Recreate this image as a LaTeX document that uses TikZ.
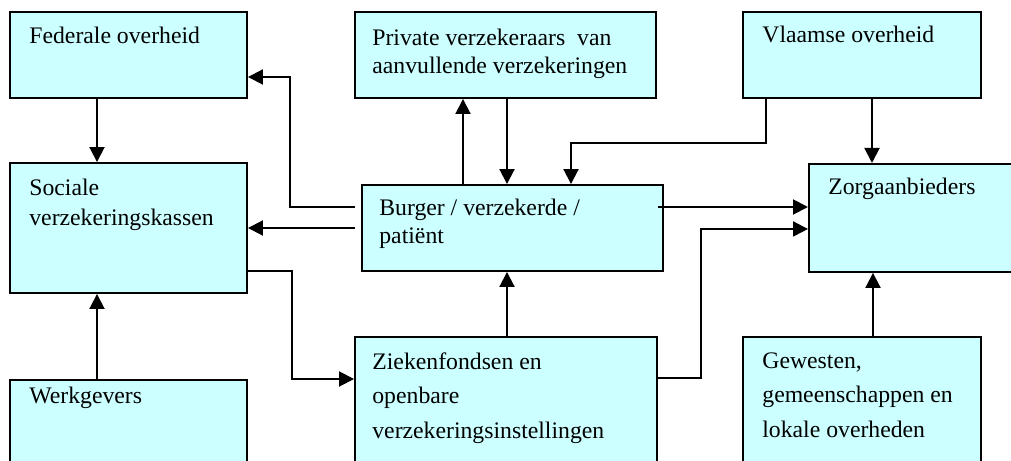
\documentclass[tikz,border=0pt]{standalone}
\usepackage{fontspec}
\setmainfont{Liberation Serif}
\usetikzlibrary{positioning,arrows.meta}
\definecolor{boxcyan}{HTML}{CCFFFF}
\tikzset{
  linkarrow/.style={-{Triangle[length=3mm, width=3mm]}, line width=1.1pt},
  orgbox/.style={draw, line width=1.1pt, fill=boxcyan, inner sep=0pt},
  orgtext/.style={anchor=north west, inner sep=0pt, align=left, font=\fontsize{13.5pt}{#1}\selectfont},
  orgtext/.default=16pt
}

\begin{document}
\begin{tikzpicture}
  \useasboundingbox (0,0) rectangle (20.22,9.2);
  \clip (0,0) rectangle (20.22,9.2);
  % boxes
  \node[orgbox, minimum width=4.74cm, minimum height=1.72cm] (fed) at (2.57,8.1) {};
  \node[orgbox, minimum width=4.74cm, minimum height=2.6cm] (soc) at (2.57,4.64) {};
  \node[orgbox, minimum width=4.74cm, minimum height=2.2cm, anchor=north] (werk) at (2.57,1.62) {};
  \node[orgbox, minimum width=6.02cm, minimum height=1.72cm] (priv) at (10.11,8.1) {};
  \node[orgbox, minimum width=6.02cm, minimum height=1.72cm] (burg) at (10.25,4.64) {};
  \node[orgbox, minimum width=6.04cm, minimum height=3cm, anchor=north] (ziek) at (10.12,2.48) {};
  \node[orgbox, minimum width=4.76cm, minimum height=1.72cm] (vla) at (17.24,8.1) {};
  \node[orgbox, minimum width=5.04cm, minimum height=2.16cm, anchor=north west] (zorg) at (16.16,5.94) {};
  \node[orgbox, minimum width=4.76cm, minimum height=3cm, anchor=north] (gew) at (17.24,2.48) {};

  % texts
  \node[orgtext] (fedtext) at ([shift={(0.4,-0.32)}]fed.north west) {Federale overheid};
  \node[orgtext=17pt] (soctext) at ([shift={(0.4,-0.34)}]soc.north west) {Sociale\\verzekeringskassen};
  \node[orgtext] (werktext) at ([shift={(0.4,-0.16)}]werk.north west) {Werkgevers};
  \node[orgtext] (privtext) at ([shift={(0.36,-0.36)}]priv.north west) {Private verzekeraars\ \ van\\aanvullende verzekeringen};
  \node[orgtext] (burgtext) at ([shift={(0.36,-0.3)}]burg.north west) {Burger / verzekerde /\\pati\"ent};
  \node[orgtext=19.7pt] (ziektext) at ([shift={(0.36,-0.32)}]ziek.north west) {Ziekenfondsen en\\openbare\\verzekeringsinstellingen};
  \node[orgtext] (vlatext) at ([shift={(0.4,-0.3)}]vla.north west) {Vlaamse overheid};
  \node[orgtext] (zorgtext) at ([shift={(0.4,-0.3)}]zorg.north west) {Zorgaanbieders};
  \node[orgtext=19.7pt] (gewtext) at ([shift={(0.4,-0.32)}]gew.north west) {Gewesten,\\gemeenschappen en\\lokale overheden};

  % connector ends
  \coordinate (fedout) at ([xshift=-0.63cm]fed.south);
  \coordinate (werkout) at ([xshift=-0.63cm]werk.north);
  \coordinate (burgfed) at ([xshift=-0.12cm,yshift=0.42cm]burg.west);
  \coordinate (burgsoc) at ([xshift=-0.12cm]burg.west);
  \coordinate (burgpriv) at ([xshift=-0.99cm]burg.north);
  \coordinate (privout) at ([xshift=0.03cm]priv.south);
  \coordinate (vlaburg) at ([xshift=-1.92cm]vla.south);
  \coordinate (vlazorg) at ([xshift=0.2cm]vla.south);
  \coordinate (burgzorg) at ([xshift=-0.12cm,yshift=0.42cm]burg.east);
  \coordinate (ziekzorg) at ([yshift=-0.84cm]ziek.north east);
  \coordinate (ziekburg) at ([xshift=0.02cm]ziek.north);
  \coordinate (socziek) at ([yshift=-0.86cm]soc.east);
  \coordinate (gewout) at ([xshift=0.22cm]gew.north);

  % connectors
  \draw[linkarrow] (fedout) -- (fedout |- soc.north);
  \draw[linkarrow] (werkout) -- (werkout |- soc.south);
  \draw[linkarrow] (burgfed) -- ++(-1.3,0) |- ([yshift=-0.44cm]fed.east);
  \draw[linkarrow] (burgsoc) -- (burgsoc -| soc.east);
  \draw[linkarrow] (burgpriv) -- (burgpriv |- priv.south);
  \draw[linkarrow] (privout) -- (privout |- burg.north);
  \draw[linkarrow] (vlaburg) -- ++(0,-0.88) -| ([xshift=1.17cm]burg.north);
  \draw[linkarrow] (vlazorg) -- (vlazorg |- zorg.north);
  \draw[linkarrow] (burgzorg) -- (burgzorg -| zorg.west);
  \draw[linkarrow] (ziekzorg) -- ++(0.86,0) |- ([yshift=-0.22cm]zorg.west);
  \draw[linkarrow] (ziekburg) -- (ziekburg |- burg.south);
  \draw[linkarrow] (socziek) -- ++(0.88,0) |- ([yshift=-0.86cm]ziek.north west);
  \draw[linkarrow] (gewout) -- (gewout |- zorg.south);
\end{tikzpicture}
\end{document}
